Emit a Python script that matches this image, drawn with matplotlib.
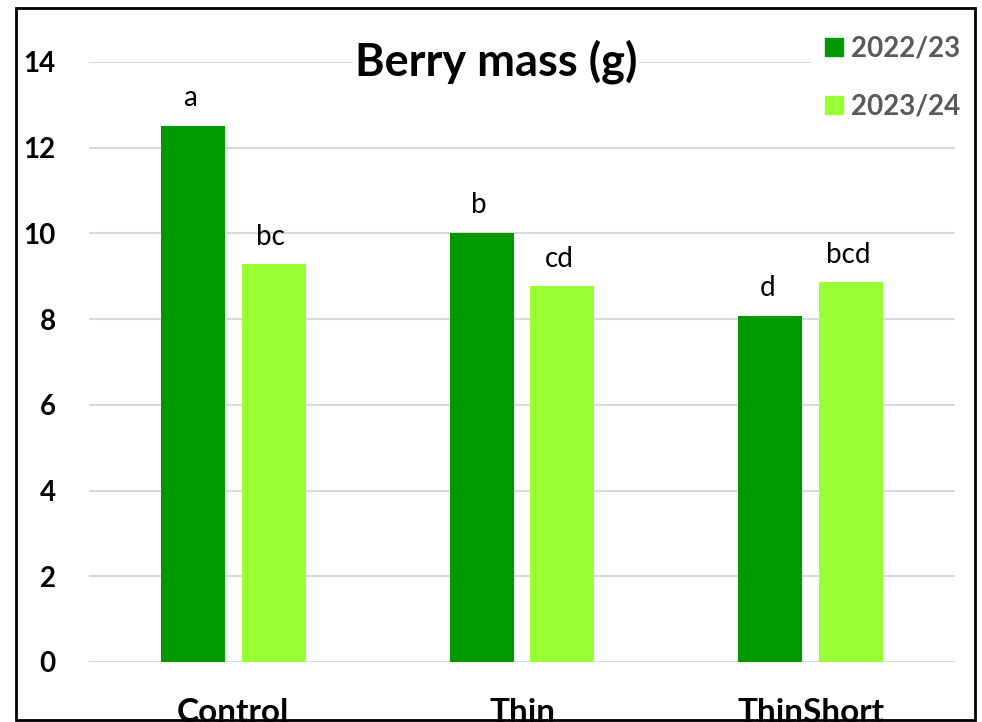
import matplotlib.pyplot as plt
import numpy as np
from matplotlib.patches import Rectangle, Patch

categories = ['Control', 'Thin', 'ThinShort']
seasons = ['2022/23', '2023/24']
mass_2022 = [12.5, 10.0, 8.07]
mass_2023 = [9.29, 8.77, 8.87]
letters_2022 = ['a', 'b', 'd']
letters_2023 = ['bc', 'cd', 'bcd']
colors = ['#009900', '#99ff33']

plt.rcParams['font.family'] = ['Lato', 'DejaVu Sans']

fig = plt.figure(figsize=(9.82, 7.22), dpi=100)
ax = fig.add_axes([89/982, 60/722, 866/982, 600/722])

x = np.arange(len(categories))
w = 0.222
off = 0.14
ax.bar(x - off, mass_2022, w, color=colors[0], zorder=2)
ax.bar(x + off, mass_2023, w, color=colors[1], zorder=2)

# significance letters above bars
for xi, v, t in zip(x - off, mass_2022, letters_2022):
    ax.text(xi - 0.01, v + 0.35, t, ha='center', va='bottom', fontsize=20)
for xi, v, t in zip(x + off, mass_2023, letters_2023):
    ax.text(xi - 0.01, v + 0.33, t, ha='center', va='bottom', fontsize=20)

ax.set_xlim(-0.5, 2.5)
ax.set_ylim(0, 14)
ax.set_yticks(range(0, 15, 2))
ax.yaxis.grid(True, color='#d9d9d9', linewidth=1.5, zorder=0)
ax.set_axisbelow(True)
for s in ax.spines.values():
    s.set_visible(False)
ax.set_xticks(x)
ax.set_xticklabels(categories, fontsize=24, fontweight='bold')
ax.tick_params(axis='x', length=0, pad=26)
ax.tick_params(axis='y', length=0, pad=24, labelsize=20)
for lab in ax.get_yticklabels():
    lab.set_fontweight('bold')

fig.text(496/982, 1 - 62/722, 'Berry mass (g)', ha='center', va='center',
         fontsize=32.5, fontweight='bold',
         bbox=dict(facecolor='white', edgecolor='none', pad=1))

handles = [Patch(color=c) for c in colors]
leg = fig.legend(handles, seasons, loc='upper left',
                 bbox_to_anchor=(811/982, 1 - 22/722), borderaxespad=0,
                 frameon=True, facecolor='white', edgecolor='none', framealpha=1,
                 handlelength=0.65, handleheight=0.65, handletextpad=0.3,
                 labelspacing=1.15, borderpad=0.5,
                 prop={'size': 20, 'weight': 'bold'})
for t in leg.get_texts():
    t.set_color('#595959')

fig.patches.append(Rectangle((16/982, 2/722), 959/982, 712/722, transform=fig.transFigure,
                             fill=False, edgecolor='black', linewidth=2))

fig.savefig('out.png', dpi=100)
